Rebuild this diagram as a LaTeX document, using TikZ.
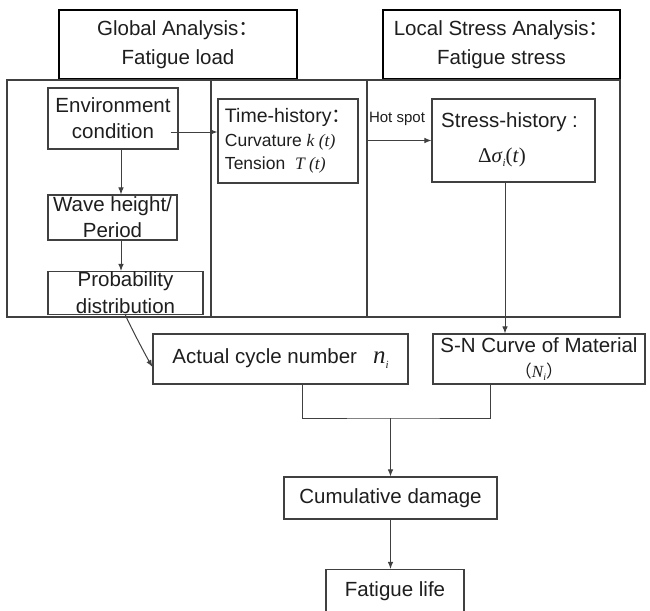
\documentclass[tikz,border=0pt]{standalone}
\usepackage{fontspec}
\setmainfont{Liberation Sans}
\newfontfamily\serif{Liberation Serif}
\newfontfamily\cjk{Noto Sans CJK SC}
\usetikzlibrary{arrows.meta}
\definecolor{linec}{HTML}{404040}
\definecolor{textc}{HTML}{1E1E1E}
\begin{document}
\begin{tikzpicture}[x=1pt,y=-1pt,
  box/.style={draw=linec, line width=1.1pt, inner sep=0pt, text=textc, align=center,
    font=\fontsize{20.5}{26}\selectfont},
  headbox/.style={box, draw=black, line width=2.8pt, font=\fontsize{20.5}{29}\selectfont},
  frameline/.style={draw=linec, line width=1.1pt},
  conn/.style={draw=linec, line width=1pt},
  arr/.style={conn, -{Latex[length=7pt,width=5.5pt]}},
  smalllabel/.style={inner sep=0pt, text=textc, font=\fontsize{15}{16}\selectfont}]
\useasboundingbox (0,0) rectangle (650,610);
\fill[white] (0,0) rectangle (650,610);

% header boxes
\node[headbox, minimum width=238, minimum height=69] (glob) at (178,44.5)
  {Global Analysis{\cjk ：}\\Fatigue load};
\node[headbox, minimum width=237, minimum height=69] (loc) at (501.5,44.5)
  {Local Stress Analysis{\cjk ：}\\Fatigue stress};

% frame
\draw[frameline] (7,80) rectangle (620,317);
\draw[frameline] (211,80) -- (211,317);
\draw[frameline] (367,80) -- (367,317);

% left column
\node[box, minimum width=130, minimum height=61] (env) at (113,118.5)
  {Environment\\condition};
\node[box, minimum width=129, minimum height=45] (wave) at (112.5,217.5)
  {Wave height/\\Period};
\node[box, minimum width=155, minimum height=43, font=\fontsize{20.5}{27}\selectfont] (prob) at (125.5,293)
  {Probability\\distribution};

% time history
\node[box, minimum width=140, minimum height=84, align=left,
  font=\fontsize{17.5}{23.5}\selectfont] (time) at (288,141)
  {{\fontsize{19.5}{23.5}\selectfont Time-history{\cjk ：}}\\
   Curvature {\serif\itshape k (t)}\\
   Tension\ \ {\serif\itshape T (t)}};

% stress history
\node[box, minimum width=163, minimum height=83] (stress) at (513.5,140.5) {};
\node[inner sep=0pt, text=textc, font=\fontsize{20.5}{24}\selectfont, anchor=west] (sht) at (441,122)
  {Stress-history :};
\node[inner sep=0pt, text=textc, font=\fontsize{21}{24}\selectfont] (sig) at (502,157)
  {\serif Δ\textit{σ}\raisebox{-4pt}{\fontsize{11}{11}\selectfont\textit{i}}(\textit{t})};
\node[smalllabel] (hot) at (397,119) {Hot spot};

% lower boxes
\node[box, minimum width=255, minimum height=50] (act) at (280.5,359)
  {Actual cycle number\hspace{16pt}{\fontsize{25}{26}\selectfont\serif\itshape n}\raisebox{-5pt}{\fontsize{11}{11}\selectfont\serif\itshape i}};
\node[box, minimum width=212, minimum height=50, font=\fontsize{20.5}{25}\selectfont] (sn) at (539,359)
  {S-N Curve of Material\\{\fontsize{17}{20}\selectfont{\cjk （}{\serif\itshape N}\raisebox{-3pt}{\fontsize{10}{10}\selectfont\serif\itshape i}{\cjk ）}}};
\node[box, minimum width=213, minimum height=42] (cum) at (390.5,498) {Cumulative damage};
\node[box, minimum width=138, minimum height=43] (life) at (395,591) {Fatigue life};

% connectors
\draw[arr] ([xshift=-8pt,yshift=-13.5pt]env.east) coordinate (ea) -- (ea -| time.west);
\draw[arr] ([xshift=8pt]env.south) coordinate (eb) -- (eb |- wave.north);
\draw[arr] ([xshift=8.5pt]wave.south) coordinate (wb) -- (wb |- prob.north);
\coordinate (hs) at (367,140.5);
\draw[arr] (hs) -- (stress.west);
\draw[arr] ([xshift=-8.5pt]stress.south) coordinate (sb) -- (sb |- sn.north);
\draw[arr] (prob.south) .. controls (128,322) and (146,356) .. ([yshift=-8pt]act.west);
\coordinate (jn) at (390.5,418);
\draw[conn] ([xshift=21.5pt]act.south) |- (jn) -| ([xshift=-49pt]sn.south);
\draw[arr] (jn) -- (cum.north);
\draw[arr] (cum.south) -- (cum.south |- life.north);
\end{tikzpicture}
\end{document}
